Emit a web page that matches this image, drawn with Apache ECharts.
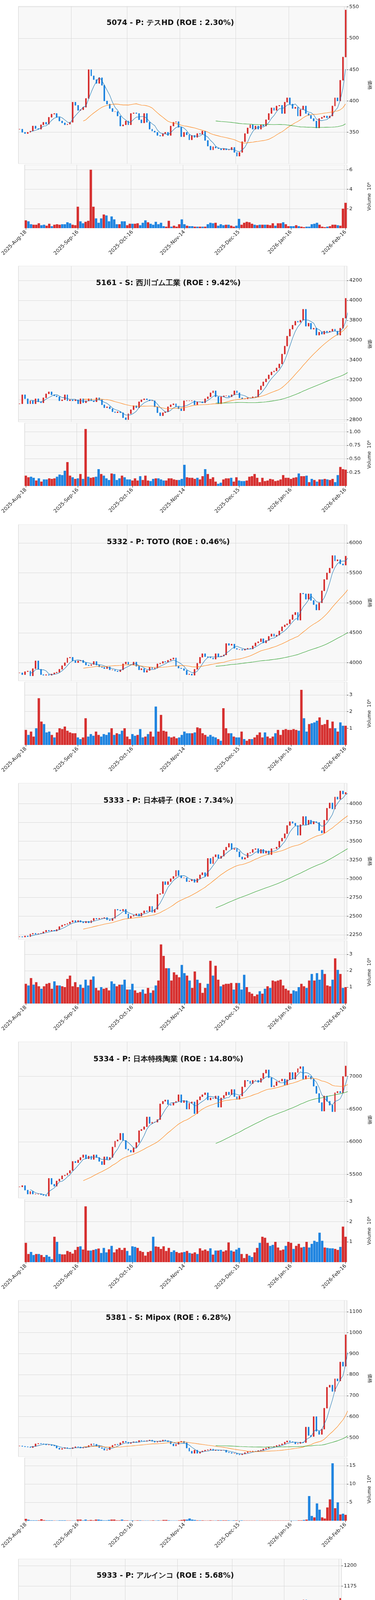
<!DOCTYPE html>
<html><head><meta charset="utf-8">
<script src="https://cdn.jsdelivr.net/npm/echarts@6/dist/echarts.min.js"></script>
<style>html,body{margin:0;padding:0;background:#fff}#c{width:960px;height:6618px}</style>
</head><body><div id="c"></div>
<script>
// ---------- axis tick labels ----------
const tickIdx = [0, 20, 41, 61, 82, 102, 123];
const tickLabels = ['2025-Aug-18','2025-Sep-16','2025-Oct-16','2025-Nov-14','2025-Dec-15','2026-Jan-16','2026-Feb-16'];

// ---------- 5074 テスHD ----------
const close_5074 = [355,350,348,350,352,360,356,355,362,366,363,
374,379,380,374,368,365,362,363,366,398,
393,385,386,390,404,450,440,434,428,437,
425,400,395,388,383,383,376,360,362,368,
362,380,381,380,370,365,380,366,355,352,
350,345,344,348,350,345,360,366,367,358,
343,350,346,338,345,342,348,347,352,337,
328,322,327,325,324,322,324,322,322,326,
318,312,318,335,348,357,362,355,360,355,
362,360,370,380,389,385,392,393,380,398,
405,395,388,390,376,386,392,380,377,
372,368,357,372,374,376,373,376,392,405,400,433,470,545];
const vol_5074 = [0.8,0.7,0.4,0.35,0.35,0.5,0.3,0.35,0.25,0.45,0.2,
0.35,0.4,0.35,0.4,0.4,0.6,0.5,0.35,0.3,2.2,
0.7,0.5,0.65,0.75,6.0,2.2,1.0,0.55,1.0,1.4,
1.3,0.7,1.2,0.9,0.4,0.4,0.7,0.7,0.3,0.45,
0.45,0.45,0.5,0.3,0.55,0.8,0.6,0.45,0.35,0.65,
0.4,0.55,0.2,0.15,0.75,0.15,0.25,0.15,0.4,0.9,
0.4,0.25,0.2,0.2,0.15,0.15,0.15,0.15,0.15,0.4,
0.55,0.5,0.55,0.25,0.4,0.3,0.35,0.35,0.25,0.15,
0.25,0.95,0.35,0.55,0.65,0.6,0.45,0.35,0.3,0.35,
0.35,0.35,0.35,0.3,0.5,0.25,0.5,0.5,0.6,0.4,
0.2,0.2,0.2,0.3,0.2,0.15,0.1,0.15,0.15,0.4,
0.45,0.55,0.35,0.15,0.1,0.15,0.2,0.35,0.35,0.3,0.25,2.0,2.6,4.8];

// ---------- 5161 西川ゴム工業 ----------
const close_5161 = [2960,3050,3010,2960,2990,2960,3010,2980,2970,3020,3060,
3080,3050,3040,3030,2990,3000,3050,2990,3000,2990,
3000,2960,3010,2970,2990,3010,2990,2980,3020,3000,
2950,2920,2930,2910,2880,2870,2880,2870,2820,2800,
2860,2900,2940,2920,2980,3000,3010,3000,2990,2990,
2930,2870,2840,2870,2880,2930,2950,2960,2930,2910,
2890,2990,2990,2990,2990,2950,2980,2980,2970,3010,
3030,3070,3090,3030,2960,3030,3040,3040,3030,3050,
3090,3070,3020,3010,3010,3020,3020,3030,3030,3100,
3140,3180,3210,3250,3280,3290,3320,3360,3460,3540,
3640,3710,3750,3790,3780,3800,3910,3740,3770,3710,
3720,3650,3680,3660,3690,3680,3690,3710,3690,3650,3720,3820,4020,4280];
const vol_5161 = [.19,.16,.17,.15,.10,.14,.08,.12,.12,.14,.13,
.14,.17,.21,.20,.28,.44,.19,.16,.13,.14,
.22,.13,1.05,.17,.15,.16,.17,.31,.22,.19,
.14,.11,.23,.22,.11,.14,.19,.16,.12,.12,
.10,.14,.10,.18,.11,.19,.10,.09,.13,.14,
.14,.12,.10,.10,.14,.14,.12,.11,.11,.13,
.39,.16,.15,.15,.13,.15,.12,.18,.31,.22,
.13,.16,.08,.04,.06,.12,.14,.14,.15,.08,
.16,.10,.09,.09,.10,.17,.18,.22,.15,.07,
.15,.09,.10,.13,.12,.09,.10,.12,.20,.15,
.15,.13,.15,.16,.23,.18,.18,.19,.07,.13,
.11,.08,.12,.12,.13,.12,.11,.13,.07,.20,.35,.31,.30,.29];

// ---------- 5332 TOTO ----------
const close_5332 = [3830,3800,3850,3860,3780,3900,4030,3890,3800,3790,3800,
3790,3810,3830,3840,3890,3950,4000,4080,4090,4030,
4000,4030,4040,4000,3960,3950,3970,4020,3960,3930,
3920,3900,3930,3880,3880,3860,3850,3880,3980,4010,
3970,3960,4010,3940,3880,3900,3840,3870,3920,3900,
3910,3980,3990,4020,4010,4040,4060,4080,3940,3910,
3900,3870,3800,3810,3790,3890,3990,4090,4150,
4100,4090,4080,4060,4150,4100,4110,4130,
4320,4290,4310,4240,4220,4220,4210,4230,4240,4230,4280,4330,4350,4400,4330,4370,4440,4480,4440,4460,4530,4600,
4630,4650,4720,4800,4840,4710,5160,5150,5060,5150,5040,4970,4880,5000,5200,5390,5500,5580,5790,5700,5720,5650,5630,5780,6020];
const vol_5332 = [.9,.6,.8,.5,1.0,2.8,1.4,1.25,.75,.8,.6,
.45,.75,1.0,.95,1.1,.85,.75,.7,.7,.45,
.35,.45,1.6,.5,.65,.55,.8,.6,.5,.65,
.6,.75,1.0,.6,.7,.65,.85,1.0,.5,.35,
.65,.55,.6,.95,.45,.5,.65,.8,.5,2.3,
.8,1.8,.85,.8,.5,.45,.5,.4,.45,.6,
.8,.7,.7,.7,.75,1.05,1.0,.7,.6,.5,
.6,.5,.45,.35,.25,2.2,1.0,.7,.7,.5,
.45,.45,.8,.35,.25,.35,.35,.45,.6,.75,
.45,.75,.5,.4,.5,.7,.9,.6,.9,.95,
.9,.9,.95,.9,.85,3.3,1.6,.8,1.25,1.3,1.35,1.45,1.65,1.2,1.25,1.5,1.0,1.4,1.0,.8,1.35,1.15,1.15,3.05];

// ---------- 5333 日本碍子 ----------
const close_5333 = [2225,2220,2235,2225,2260,2270,2260,2265,2270,2290,2310,
2300,2310,2300,2320,2360,2380,2390,2400,2420,2440,
2420,2440,2420,2410,2430,2410,2440,2470,2460,2470,
2470,2480,2450,2440,2470,2590,2580,2570,2590,2530,
2470,2500,2510,2530,2500,2540,2570,2560,2630,2550,2590,
2790,2800,2960,2920,2960,3000,3030,3110,3040,3010,3010,
2960,2970,2990,2950,3000,3050,3080,3030,3270,3200,3290,
3320,3270,3300,3380,3420,3470,3390,3400,3360,3290,3260,
3280,3340,3350,3390,3400,3340,3390,3340,3370,3320,3400,
3400,3420,3500,3540,3600,3710,3760,3740,3710,
3580,3720,3830,3720,3780,3730,3760,3750,3640,3610,3780,3940,4010,3930,4090,4060,4170,4130,4150,4190];
const vol_5333 = [1.2,1.1,1.55,1.15,1.3,1.05,.9,1.05,1.2,1.25,.9,
1.35,1.1,1.1,1.05,1.0,1.5,1.7,1.05,1.3,1.0,
1.15,.95,1.45,1.1,1.45,1.65,.95,.8,1.0,.9,
.95,.8,1.35,1.2,1.05,1.15,1.15,1.45,.85,.85,
1.2,.8,.65,.7,.85,.6,.95,.65,.8,1.1,
1.4,3.6,2.9,2.15,2.15,1.4,1.9,1.75,1.6,2.35,
1.85,1.7,1.4,.95,1.95,1.45,1.25,.65,.95,1.2,
2.6,1.7,2.3,1.45,1.05,1.15,1.2,1.2,1.25,.85,
1.25,1.25,.85,1.75,1.0,.7,.6,.45,.55,.75,
.6,.9,1.05,.95,1.4,1.35,1.4,1.45,1.1,.9,
.8,.6,.8,.75,1.0,1.2,1.05,.95,1.4,1.8,
1.4,1.85,1.45,2.05,1.8,1.1,1.05,1.45,2.75,2.05,1.8,.95,1.0,1.2];

// ---------- 5334 日本特殊陶業 ----------
const close_5334 = [5310,5330,5260,5200,5240,5200,5200,5200,5190,5180,5170,
5440,5350,5320,5400,5430,5480,5490,5520,5560,5700,
5680,5720,5760,5800,5740,5780,5730,5800,5760,5700,
5650,5770,5730,5760,5920,6010,6030,6130,6020,5890,
5870,5840,5910,5990,6170,6190,6230,6380,6280,6300,
6300,6340,6580,6620,6640,6570,6560,6600,6620,6720,
6600,6630,6500,6590,6610,6430,6640,6690,6720,6750,
6640,6670,6660,6700,6530,6670,6710,6760,6720,6800,
6690,6650,6700,6840,6940,6930,6890,6940,6940,6910,
6970,7050,7100,6980,6840,6860,6920,6930,6960,6870,
6950,7060,6960,7060,7120,7150,6960,7010,7000,6960,
6850,6740,6600,6470,6700,6620,6560,6460,6750,6770,6750,7000,7160,7420];
const vol_5334 = [.95,.4,.5,.35,.4,.4,.35,.25,.35,.27,.15,
1.25,1.0,.4,.38,.38,.55,.5,.42,.6,.75,
.78,.62,2.75,.57,.57,.6,.64,.67,.45,.7,
.48,.63,.8,.48,.63,.7,.6,.7,.55,.33,
.78,.75,.7,.55,.5,.32,.5,.55,1.25,.77,
.75,.65,.78,.55,.7,.5,.58,.5,.45,.48,
.5,.55,.45,.42,.48,.4,.68,.57,.62,.55,
.68,.37,.57,.57,.6,.52,.58,.97,.57,.52,
.62,.7,.4,.2,.4,.32,.25,.48,.7,.95,
1.25,1.2,.95,.8,.85,1.0,.72,.58,.62,.8,
1.0,.95,.65,.8,.9,.72,.75,1.0,.72,.9,1.05,1.0,1.45,1.05,.72,.7,.68,.68,.65,.6,.75,1.75,1.25,1.32];

// ---------- 5381 Mipox ----------
const close_5381 = [460,458,456,455,452,458,470,472,470,468,465,
466,462,460,450,444,448,452,448,447,452,
456,455,450,452,455,462,470,468,460,452,
448,440,442,455,463,468,466,475,482,478,
472,476,480,478,486,484,482,485,488,482,
478,480,484,488,485,480,470,460,468,478,
482,475,450,435,425,440,425,432,436,440,
442,445,438,440,438,440,440,430,428,425,
425,420,418,422,428,432,435,435,434,438,
440,446,450,455,455,458,462,465,470,478,
484,480,478,470,472,478,476,
550,510,505,600,530,515,540,640,740,750,720,780,770,860,840,990,1140];
const vol_5381 = [.5,.25,.1,.1,.1,.1,.4,.15,.1,.1,.1,
.05,.05,.1,.1,.1,.05,.05,.05,.05,.3,
.3,.1,.3,.1,.2,.1,.3,.3,.2,.1,
.1,.2,.3,.3,.1,.1,.3,.1,.1,.05,
.1,.05,.1,.1,.05,.05,.05,.05,.1,.05,
.1,.05,.2,.2,.1,.05,.05,.05,.1,.2,
.3,.3,.6,.3,.2,.1,.1,.1,.05,.05,
.1,.05,.05,.1,.1,.1,.1,.1,.05,.1,
.1,.05,.1,.05,.05,.05,.05,.05,.05,.05,
.05,.05,.05,.05,.05,.05,.05,.05,.05,.05,
.05,.05,.05,.05,.1,.1,.2,.3,
6.7,1.3,.9,4.7,3.0,.9,.6,3.6,5.8,15.6,3.4,5.0,1.7,1.9,1.6,2.3,1.8];

// ---------- 5933 アルインコ ----------
const close_5933 = [1042,1047,1050,1040,1045,1048,1046,1050,1040,1047,1058,
1070,1062,1054,1048,1052,1035,1062,1072,1080,1075,
1093,1062,1098,1090,1088,1108,1112,1108,1108,1098,
1105,1072,1070,1090,1085,1082,1084,1080,1078,1058,
1050,1078,1072,1070,1070,1075,1102,1068,1080,1078,
1082,1090,1076,1080,1055,1030,1030,1036,1050,1035,
1028,1034,1031,1032,1046,1050,1045,1046,1040,1037,
1033,1045,1060,1055,1062,1075,1086,1094,1080,1082,
1074,1072,1085,1084,1087,1080,1092,1100,1113,1106,
1113,1120,1128,1140,1130,1132,1138,1130,1135,1125,
1138,1130,1137,1150,1136,1148,1150,1152,1158,1145,
1130,1112,1136,1148,1120,1118,1108,1120,1112,1120,1133,1148,1160,1190];
const vol_5933 = [15000,10000,8000,8000,12000,12000,23000,27000,26000,24000,20000,
23000,14000,18000,15000,18000,10000,26000,12000,45000,205000,
120000,40000,20000,28000,58000,35000,32000,32000,70000,32000,
30000,20000,37000,15000,20000,67000,28000,26000,25000,20000,
235000,190000,80000,32000,18000,48000,52000,58000,25000,37000,
40000,12000,12000,15000,12000,12000,22000,15000,12000,22000,
12000,12000,15000,38000,36000,21000,50000,95000,58000,38000,
42000,20000,14000,13000,18000,18000,20000,40000,37000,26000,
10000,16000,25000,44000,28000,18000,18000,16000,26000,12000,
37000,35000,39000,17000,12000,37000,28000,26000,25000,24000,
24000,36000,44000,24000,30000,28000,30000,25000,28000,20000,
30000,48000,67000,26000,28000,46000,35000,28000,30000,83000,28000,30000,85000,118000];

// ---------- 5986 モリテック スチール ----------
const close_5986 = [203,210,202,203,205,207,206,207,208,210,208,
209,208,208,206,206,207,206,205,204,204,
205,205,206,205,206,212,213,212,210,205,
205,205,203,202,203,200,204,200,200,201,
200,201,200,203,206,208,205,201,205,203,
200,202,200,201,203,202,201,202,202,201,
196,194,194,195,193,192,195,194,194,196,
197,195,194,193,193,192,192,191,190,191,
191,189,190,189,188,189,190,191,190,190,
191,192,196,200,199,201,201,200,200,199,
200,199,195,199,200,198,197,198,199,197,
198,197,196,197,216,210,208,209,211,222,225,228,236,261];
const vol_5986 = [.03,.05,.1,.03,.02,.03,.03,.01,.01,.01,.01,
.01,.01,.01,.01,.01,.01,.01,.01,.01,.01,
.01,.01,.01,.02,.03,.03,.02,.04,.05,.07,
.01,.01,.06,.01,.01,.01,.01,.01,.06,.02,
.01,.01,.04,.01,.05,.03,.07,.03,.03,.01,
.01,.01,.01,.01,.01,.01,.01,.02,.01,.01,
.18,.04,.01,.04,.04,.03,.01,.08,.01,.01,
.01,.03,.03,.03,.01,.01,.01,.01,.01,.01,
.01,.01,.03,.05,.02,.03,.01,.01,.01,.01,
.02,.02,.04,.04,.02,.01,.01,.01,.02,.12,
.04,.02,.03,.05,.08,.07,.1,.15,.06,.07,
.05,.05,.06,.04,1.2,.19,.12,.1,.1,1.26,.19,.2,.14,.43];

// ---------- 6081 アライドアーキテクツ ----------
const close_6081 = [215,220,220,222,226,240,241,232,228,225,226,
234,225,237,225,224,228,235,238,237,236,
240,235,231,230,230,226,220,219,218,217,
214,206,210,206,206,210,209,212,213,211,
216,220,216,213,220,219,214,220,225,220,
217,222,213,210,205,207,204,204,206,208,
210,214,212,216,212,210,206,202,200,198,196,
193,182,230,310,255,250,245,248,215,205,210,
197,205,209,207,213,210,208,205,203,202,204,
206,208,210,208,210,212,210,211,212,290,272,262,
345,320,335,325,338,310,295,282,280,285,305,320,330,333,380,340,325,372,452];
const vol_6081 = [.1,.1,.1,.3,.1,.1,.1,.1,.1,.05,.05,
.05,.05,.05,.05,.05,.05,.1,.1,.2,.3,
.1,.1,.05,.05,.05,.05,.05,.05,.05,.05,
.05,.05,.05,.05,.05,.05,.05,.05,.05,.05,
2.9,.5,.05,.05,.05,.05,.05,.05,.05,.05,
.05,.05,.05,.05,.05,.1,.1,.05,.05,.05,
.05,.3,.05,.05,.05,.05,.05,.05,.05,.05,.05,
.05,.2,4.0,11.0,11.2,5.0,.8,1.6,1.3,1.8,.5,
.5,.3,.1,2.2,.2,.1,.2,.2,.1,.1,.1,
.1,.1,.1,.1,.3,.1,.1,.2,.1,18.8,10.3,4.5,
19.8,28.5,7.9,6.3,2.3,2.5,1.3,.7,.5,.3,1.2,5.2,1.5,.5,2.4,1.8,.8,3.0,4.9];

// ---------- 6094 フリークアウト・HD ----------
const close_6094 = [524,508,512,503,510,511,512,511,510,513,515,
514,517,510,512,516,520,527,533,540,530,
525,530,531,529,531,534,536,528,532,522,
520,515,505,510,517,517,511,510,508,510,
505,506,508,508,511,512,512,510,507,503,
505,502,500,497,492,491,490,497,505,500,
500,501,502,557,540,534,537,540,546,538,
545,545,540,529,522,512,516,522,520,520,
517,513,521,522,513,535,530,532,520,523,
526,523,525,520,515,520,515,523,535,548,
552,545,538,542,540,546,535,532,535,536,
540,538,534,530,535,533,525,548,546,554,573,570,663,712];
const vol_6094 = [72000,38000,15000,10000,20000,30000,12000,22000,10000,17000,65000,
12000,10000,2000,2000,68000,8000,9000,15000,24000,19000,
3000,4000,5000,6000,50000,4000,10000,13000,4000,10000,
4000,16000,26000,13000,11000,16000,6000,10000,4000,7000,
38000,3000,2000,3000,7000,11000,6000,9000,4000,2000,
4000,12000,12000,2000,2000,2000,4000,24000,12000,12000,
10000,13000,85000,44000,7000,19000,5000,12000,10000,5000,
17000,16000,16000,24000,4000,34000,12000,4000,8000,90000,
9000,30000,10000,52000,36000,27000,22000,28000,28000,25000,
22000,11000,15000,5000,5000,16000,12000,27000,12000,18000,
3000,3000,6000,3000,1000,1000,1000,29000,6000,5000,
4000,7000,6000,62000,5000,12000,16000,12000,22000,17000,31000,17000,258000,183000];

// ---------- panel configuration ----------
const panels = [
 {t:'5074 - P: テスHD (ROE : 2.30%)', c:close_5074, v:vol_5074, T:0, pt:16, pb:419, vt:422, vb:584, r:889, tx:431, ty:57,
  pmin:300, pmax:551, pticks:[350,400,450,500,550], vmax:6.5, vticks:[2,4,6], vdec:0, vname:'Volume  10⁶'},
 {t:'5161 - S: 西川ゴム工業 (ROE : 9.42%)', c:close_5161, v:vol_5161, T:660, pt:21, pb:420, vt:423, vb:584, r:889, tx:426, ty:63,
  pmin:2778, pmax:4345, pticks:[2800,3000,3200,3400,3600,3800,4000,4200], vmax:1.16, vticks:[0.25,0.5,0.75,1.0], vdec:2, vname:'Volume  10⁶'},
 {t:'5332 - P: TOTO (ROE : 0.46%)', c:close_5332, v:vol_5332, T:1323, pt:20, pb:420, vt:423, vb:584, r:889, tx:426, ty:63,
  pmin:3696, pmax:6307, pticks:[4000,4500,5000,5500,6000], vmax:3.77, vticks:[1,2,3], vdec:0, vname:'Volume  10⁶'},
 {t:'5333 - P: 日本碍子 (ROE : 7.34%)', c:close_5333, v:vol_5333, T:1985, pt:20, pb:420, vt:423, vb:584, r:889, tx:426, ty:63,
  pmin:2188, pmax:4274, pticks:[2250,2500,2750,3000,3250,3500,3750,4000], vmax:3.83, vticks:[1,2,3], vdec:0, vname:'Volume  10⁶'},
 {t:'5334 - P: 日本特殊陶業 (ROE : 14.80%)', c:close_5334, v:vol_5334, T:2647, pt:20, pb:420, vt:423, vb:584, r:889, tx:426, ty:63,
  pmin:5139, pmax:7530, pticks:[5500,6000,6500,7000], vmax:3.1, vticks:[1,2,3], vdec:0, vname:'Volume  10⁶'},
 {t:'5381 - S: Mipox (ROE : 6.28%)', c:close_5381, v:vol_5381, T:3309, pt:20, pb:420, vt:423, vb:584, r:889, tx:426, ty:63,
  pmin:409, pmax:1154, pticks:[500,600,700,800,900,1000,1100], vmax:17.1, vticks:[5,10,15], vdec:0, vname:'Volume  10⁶'},
 {t:'5933 - P: アルインコ (ROE : 5.68%)', c:close_5933, v:vol_5933, T:3971, pt:20, pb:412, vt:414, vb:571, r:874, tx:418, ty:61,
  pmin:1021, pmax:1208, pticks:[1025,1050,1075,1100,1125,1150,1175,1200], vmax:264000, vticks:[100000,200000], vdec:0, vname:'Volume'},
 {t:'5986 - S: モリテック スチール (ROE : 3.98%)', c:close_5986, v:vol_5986, T:4633, pt:8.5, pb:412, vt:413, vb:573, r:889, tx:431, ty:51,
  pmin:186.3, pmax:265, pticks:[190,200,210,220,230,240,250,260], vmax:1.35, vticks:[0.5,1.0], vdec:1, vname:'Volume  10⁶'},
 {t:'6081 - G: アライドアーキテクツ (ROE : -32.42%)', c:close_6081, v:vol_6081, T:5295, pt:17, pb:418.6, vt:422, vb:580, r:889, tx:429, ty:56,
  pmin:177, pmax:453.4, pticks:[200,250,300,350,400,450], vmax:31, vticks:[10,20,30], vdec:0, vname:'Volume  10⁶'},
 {t:'6094 - G: フリークアウト・HD (ROE : 5.41%)', c:close_6094, v:vol_6094, T:5956, pt:21, pb:413.5, vt:415, vb:571, r:874, tx:418, ty:63,
  pmin:488.6, pmax:720.5, pticks:[500,550,600,650,700], vmax:285000, vticks:[100000,200000], vdec:0, vname:'Volume'}
];

const UP = '#d62f2f', DOWN = '#1f84e0';
const FONT = 'DejaVu Sans';
const cats = close_5074.map((_, i) => String(i));
function ma(arr, n) {
  return arr.map((_, i) => {
    if (i < n - 1) return '-';
    let s = 0; for (let k = i - n + 1; k <= i; k++) s += arr[k];
    return +(s / n).toFixed(3);
  });
}
const showTick = (idx) => tickIdx.indexOf(idx) >= 0;

const option = {animation:false, backgroundColor:'#fff', title:[], grid:[], xAxis:[], yAxis:[], series:[]};
panels.forEach((p, k) => {
  const opens = p.c.map((c, i) => i === 0 ? c : p.c[i - 1]);
  const candles = p.c.map((c, i) => [opens[i], c, Math.min(opens[i], c), Math.max(opens[i], c)]);
  const vols = p.v.map((v, i) => ({value: v, itemStyle: {color: p.c[i] >= opens[i] ? UP : DOWN}}));
  option.title.push({text: p.t, left: p.tx, top: p.T + p.ty - 12, textAlign: 'center',
    textStyle: {fontFamily: FONT, fontWeight: 'bold', fontSize: 19, color: '#111'}});
  const gp = option.grid.length;
  option.grid.push({left: 47, right: 960 - p.r, top: p.T + p.pt, height: p.pb - p.pt, show: true,
    backgroundColor: '#f8f8f8', borderColor: '#e6e6e6', borderWidth: 1});
  option.grid.push({left: 47, right: 960 - p.r, top: p.T + p.vt, height: p.vb - p.vt, show: true,
    backgroundColor: '#f8f8f8', borderColor: '#e6e6e6', borderWidth: 1});
  const xBase = {type: 'category', data: cats, boundaryGap: true,
    axisLine: {show: false}, splitLine: {show: true, interval: (i) => showTick(i), lineStyle: {color: '#d8d8d8'}}};
  option.xAxis.push(Object.assign({}, xBase, {gridIndex: gp, axisLabel: {show: false}, axisTick: {show: false}}));
  option.xAxis.push(Object.assign({}, xBase, {gridIndex: gp + 1,
    axisTick: {show: true, alignWithLabel: true, interval: (i) => showTick(i), length: 4, lineStyle: {color: '#333'}},
    axisLabel: {show: true, interval: (i) => showTick(i), rotate: 45, fontFamily: FONT, fontSize: 13, color: '#222', margin: 8,
      formatter: (v) => { const j = tickIdx.indexOf(+v); return j >= 0 ? tickLabels[j] : ''; }}}));
  option.yAxis.push({type: 'value', gridIndex: gp, position: 'right', min: p.pmin, max: p.pmax, scale: true,
    name: '価格', nameLocation: 'middle', nameGap: 52, nameRotate: -90,
    nameTextStyle: {fontFamily: FONT, fontSize: 12, color: '#222'},
    axisLine: {show: false},
    axisTick: {show: true, length: 4, customValues: p.pticks, lineStyle: {color: '#333'}},
    axisLabel: {customValues: p.pticks, fontFamily: FONT, fontSize: 13, color: '#222', margin: 6,
      formatter: (v) => String(Math.round(v))},
    splitLine: {show: true, lineStyle: {color: '#d8d8d8', width: 1.2}}});
  option.yAxis.push({type: 'value', gridIndex: gp + 1, position: 'right', min: 0, max: p.vmax,
    name: p.vname, nameLocation: 'middle', nameGap: p.vname === 'Volume' ? 66 : 52, nameRotate: 90,
    nameTextStyle: {fontFamily: FONT, fontSize: 12, color: '#222'},
    axisLine: {show: false},
    axisTick: {show: true, length: 4, customValues: p.vticks, lineStyle: {color: '#333'}},
    axisLabel: {customValues: p.vticks, fontFamily: FONT, fontSize: 13, color: '#222', margin: 6,
      formatter: (v) => v.toFixed(p.vdec)},
    splitLine: {show: true, lineStyle: {color: '#d8d8d8', width: 1.2}}});
  const xi = gp, yi = gp;
  option.series.push({type: 'candlestick', xAxisIndex: xi, yAxisIndex: yi, data: candles, barMaxWidth: 4.5,
    itemStyle: {color: UP, color0: DOWN, borderColor: UP, borderColor0: DOWN, borderWidth: 1}});
  [[5, '#1f77b4'], [25, '#ff7f0e'], [75, '#2ca02c']].forEach(([n, col]) => {
    option.series.push({type: 'line', xAxisIndex: xi, yAxisIndex: yi, data: ma(p.c, n), showSymbol: false,
      smooth: false, lineStyle: {color: col, width: 1.1}, z: 3});
  });
  option.series.push({type: 'bar', xAxisIndex: xi + 1, yAxisIndex: yi + 1, data: vols, barCategoryGap: '8%'});
});

const chart = echarts.init(document.getElementById('c'), null, {renderer: 'canvas'});
chart.setOption(option);
</script></body></html>
